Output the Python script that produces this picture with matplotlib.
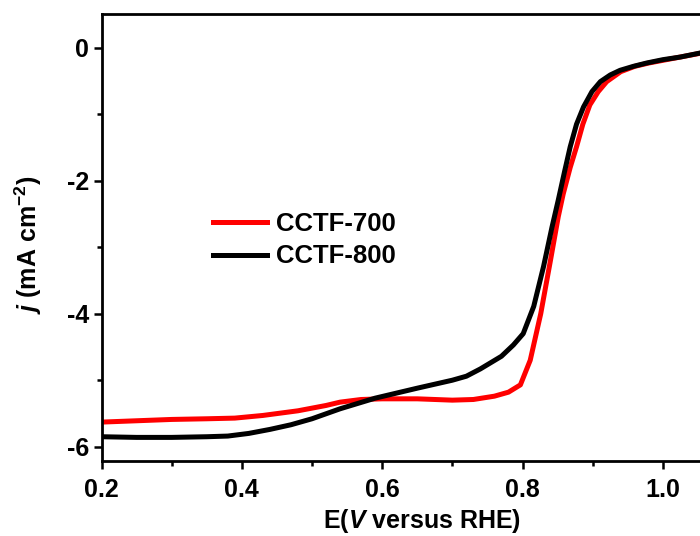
import numpy as np
import matplotlib
matplotlib.use("Agg")
import matplotlib.pyplot as plt
from matplotlib.ticker import MultipleLocator

plt.rcParams['font.family'] = ['Liberation Sans', 'DejaVu Sans']
plt.rcParams['font.weight'] = 'bold'
plt.rcParams['mathtext.fontset'] = 'custom'
plt.rcParams['mathtext.rm'] = 'Liberation Sans:bold'
plt.rcParams['mathtext.it'] = 'Liberation Sans:bold:italic'
plt.rcParams['mathtext.bf'] = 'Liberation Sans:bold'

# LSV curves (E in V vs RHE, j in mA cm-2)
e_700 = [0.2, 0.25, 0.3, 0.35, 0.39, 0.43, 0.48, 0.52, 0.54, 0.57, 0.6, 0.65, 0.7,
         0.73, 0.76, 0.78, 0.797, 0.811, 0.826, 0.840, 0.851, 0.858, 0.868, 0.877,
         0.886, 0.896, 0.908, 0.920, 0.94, 0.96, 0.98, 1.0, 1.02, 1.04, 1.06]
j_700 = [-5.63, -5.61, -5.59, -5.58, -5.57, -5.53, -5.46, -5.38, -5.33, -5.29, -5.28,
         -5.28, -5.30, -5.29, -5.24, -5.18, -5.07, -4.70, -4.00, -3.19, -2.54, -2.20,
         -1.80, -1.49, -1.15, -0.86, -0.66, -0.51, -0.36, -0.28, -0.23, -0.19, -0.15,
         -0.11, -0.07]

e_800 = [0.2, 0.25, 0.3, 0.35, 0.38, 0.41, 0.44, 0.47, 0.5, 0.54, 0.59, 0.65, 0.7,
         0.72, 0.74, 0.77, 0.787, 0.801, 0.816, 0.830, 0.842, 0.851, 0.86, 0.868,
         0.877, 0.887, 0.899, 0.911, 0.925, 0.939, 0.958, 0.977, 1.0, 1.025, 1.053, 1.06]
j_800 = [-5.85, -5.86, -5.86, -5.85, -5.84, -5.80, -5.74, -5.67, -5.58, -5.43, -5.27,
         -5.12, -5.00, -4.94, -4.83, -4.64, -4.47, -4.30, -3.89, -3.29, -2.70, -2.29,
         -1.86, -1.49, -1.15, -0.89, -0.66, -0.51, -0.41, -0.34, -0.28, -0.23, -0.18,
         -0.14, -0.08, -0.07]

labels = ["CCTF-700", "CCTF-800"]
colors = ["#ff0000", "#000000"]

fig = plt.figure(figsize=(7, 5.36), dpi=100)
# axes runs past the right edge, as in the cropped original
ax = fig.add_axes([101.5 / 700, 75 / 536, 631.5 / 700, 447 / 536])

ax.plot(e_700, j_700, color=colors[0], lw=3.6, label=labels[0], solid_joinstyle='round')
ax.plot(e_800, j_800, color=colors[1], lw=3.6, label=labels[1], solid_joinstyle='round')

ax.set_xlim(0.2, 1.1)
ax.set_ylim(-6.215, 0.507)
ax.xaxis.set_minor_locator(MultipleLocator(0.1))
ax.yaxis.set_minor_locator(MultipleLocator(1))
ax.set_xticks([0.2, 0.4, 0.6, 0.8, 1.0])
ax.set_xticklabels(["0.2", "0.4", "0.6", "0.8", "1.0"])
ax.set_yticks([0, -2, -4, -6])
ax.set_yticklabels(["0", "-2", "-4", "-6"])

for s in ax.spines.values():
    s.set_linewidth(2)
ax.tick_params(which='major', direction='out', length=6, width=1.8, labelsize=18)
ax.tick_params(which='minor', direction='out', length=3.5, width=1.8)
ax.tick_params(axis='x', which='major', pad=6)
ax.tick_params(axis='y', which='major', pad=3)
ax.tick_params(top=False, right=False, which='both')

fig.text(422 / 700, 1 - 521 / 536, r'E($\mathit{V}$ versus RHE)', ha='center', va='center',
         fontsize=18, fontweight='bold')
fig.text(28 / 700, 1 - 245 / 536, r'$\mathit{j}$ (mA cm$^{-2}$)', ha='center', va='center',
         rotation=90, fontsize=18, fontweight='bold')

ax.legend(loc='center left', bbox_to_anchor=(213 / 700, 1 - 240 / 536),
          bbox_transform=fig.transFigure, frameon=False, fontsize=18.5,
          handlelength=2.1, handletextpad=0.35, labelspacing=0.35, borderpad=0,
          borderaxespad=0)

fig.savefig("out.png", dpi=100)
